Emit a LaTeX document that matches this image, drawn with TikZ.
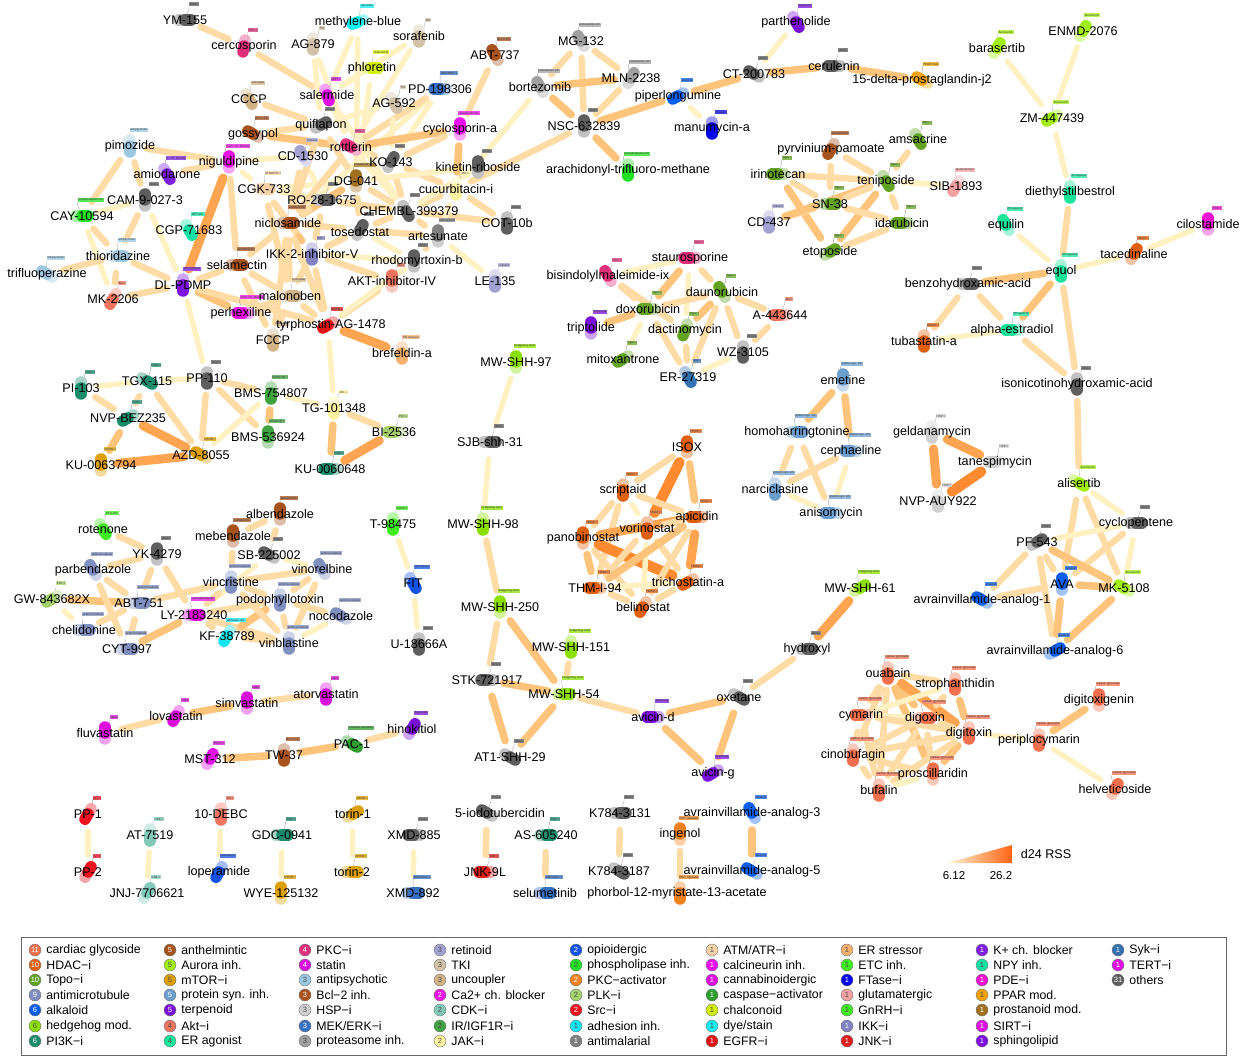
\documentclass[tikz,border=0pt]{standalone}
\usepackage{fontspec}
\setmainfont{Liberation Sans}
\usetikzlibrary{calc}
\pgfdeclarelayer{back}\pgfdeclarelayer{edges}\pgfdeclarelayer{caps}
\pgfsetlayers{back,edges,caps,main}
\newcommand\defclass[3]{\definecolor{c#1}{HTML}{#2}\expandafter\def\csname tg#1\endcsname{#3}}
\defclass{cg}{F2704D}{cardiac glycoside}
\defclass{hdac}{E0600E}{HDAC−i}
\defclass{topo}{62A422}{Topo−i}
\defclass{amt}{7F8FC0}{antimicrotubule}
\defclass{alk}{0A5EF0}{alkaloid}
\defclass{hh}{8CE000}{hedgehog mod.}
\defclass{pi3k}{1A8C6C}{PI3K−i}
\defclass{anth}{A5521C}{anthelmintic}
\defclass{aur}{A2EE10}{Aurora inh.}
\defclass{mtor}{DDA000}{mTOR−i}
\defclass{psi}{6C9ECE}{protein syn. inh.}
\defclass{terp}{7A10DC}{terpenoid}
\defclass{akt}{F2735E}{Akt−i}
\defclass{era}{16E59A}{ER agonist}
\defclass{pkci}{E0307C}{PKC−i}
\defclass{stat}{DC10DC}{statin}
\defclass{apsy}{9CC8E2}{antipsychotic}
\defclass{bcl}{A8521E}{Bcl−2 inh.}
\defclass{hsp}{CFCFCF}{HSP−i}
\defclass{mek}{3770C0}{MEK/ERK−i}
\defclass{prot}{A0A0A0}{proteasome inh.}
\defclass{ret}{A2A2D2}{retinoid}
\defclass{tki}{D2C3A8}{TKI}
\defclass{unc}{D1B385}{uncoupler}
\defclass{ca}{F010E6}{Ca2+ ch. blocker}
\defclass{cdk}{82C9B9}{CDK−i}
\defclass{igf}{3FA33F}{IR/IGF1R−i}
\defclass{jak}{FFF2A0}{JAK−i}
\defclass{opi}{1452E8}{opioidergic}
\defclass{pla}{22E022}{phospholipase inh.}
\defclass{pkca}{F2821E}{PKC−activator}
\defclass{plk}{A3D06B}{PLK−i}
\defclass{src}{F0101E}{Src−i}
\defclass{adh}{10E6F2}{adhesion inh.}
\defclass{amal}{808080}{antimalarial}
\defclass{atm}{F8D2A6}{ATM/ATR−i}
\defclass{calc}{F00CF0}{calcineurin inh.}
\defclass{cann}{E00FE0}{cannabinoidergic}
\defclass{casp}{2E9E2E}{caspase−activator}
\defclass{chal}{D2F000}{chalconoid}
\defclass{dye}{10F0F0}{dye/stain}
\defclass{egfr}{E01414}{EGFR−i}
\defclass{ers}{F8B06E}{ER stressor}
\defclass{etc}{3EEE1E}{ETC inh.}
\defclass{ftase}{0000F0}{FTase−i}
\defclass{glu}{F2A0A0}{glutamatergic}
\defclass{gnrh}{3EEE1E}{GnRH−i}
\defclass{ikk}{8282C4}{IKK−i}
\defclass{jnk}{E21E1E}{JNK−i}
\defclass{kch}{7E1EE2}{K+ ch. blocker}
\defclass{npy}{12E2A2}{NPY inh.}
\defclass{pde}{F010D2}{PDE−i}
\defclass{ppar}{F2A202}{PPAR mod.}
\defclass{pros}{A0701E}{prostanoid mod.}
\defclass{sirt}{E010E6}{SIRT−i}
\defclass{sph}{7E10E2}{sphingolipid}
\defclass{syk}{3472B2}{Syk−i}
\defclass{tert}{E010E6}{TERT−i}
\defclass{oth}{5E5E5E}{others}
\definecolor{ecA}{HTML}{FFF1C2}
\definecolor{ecB}{HTML}{FFDCA6}
\definecolor{ecC}{HTML}{FFC47C}
\definecolor{ecD}{HTML}{FFA552}
\definecolor{ecE}{HTML}{FF8A30}
\tikzset{
  eb/.style={line cap=round, shorten <=17pt, shorten >=17pt},
  e1/.style={eb, line width=5.5pt, draw=ecA},
  e2/.style={eb, line width=6.5pt, draw=ecB},
  e3/.style={eb, line width=7.5pt, draw=ecC},
  e4/.style={eb, line width=9pt, draw=ecD},
  e5/.style={eb, line width=10.5pt, draw=ecE},
  capsule/.style={line width=11.5pt, line cap=round},
  lbl/.style={inner sep=0pt, font=\fontsize{12.6}{14}\selectfont},
  tagbox/.style={inner sep=0.7pt, font=\fontsize{3}{3.5}\selectfont, text=black!80},
  leader/.style={draw=black!35, line width=0.35pt},
  legc/.style={circle, draw=black!55, line width=0.4pt, inner sep=0pt, minimum size=12pt, font=\fontsize{7.5}{7.5}\selectfont},
  legt/.style={inner sep=0pt, anchor=west, font=\fontsize{12.3}{13}\selectfont},
}
% node: [label opts]{name}{x}{y}{class}{angle of dark half}{label}
\newcommand\dn[7][]{%
  \coordinate (#2) at (#3,#4);
  \begin{pgfonlayer}{caps}
    \node[tagbox, fill=c#5!75] (#2t) at ([shift={(9,-16)}]#2) {\csname tg#5\endcsname};
    \draw[leader] (#2t.south west) -- ++(0,3) -- (#2);
    \draw[capsule, c#5!38] (#2) -- ++(#6:-6);
    \draw[capsule, c#5] (#2) -- ++(#6:6);
  \end{pgfonlayer}
  \node[lbl,#1] (#2l) at (#2) {#7};
}
\newcommand\edg[3]{\draw[#1] (#2) -- (#3);}
\newcommand\legitem[5]{%
  \node[legc, fill=c#3, text=#5] (lc#3) at (#1,#2) {#4};
  \node[legt] (lt#3) at ([xshift=5pt]lc#3.east) {\csname tg#3\endcsname};
}
\begin{document}
\begin{tikzpicture}[x=1pt,y=-1pt]
\useasboundingbox (0,0) rectangle (1242,1056);
\begin{pgfonlayer}{back}\fill[white] (0,0) rectangle (1242,1056);\end{pgfonlayer}
% ---------------- nodes: top-left cluster
\dn{ym}{185}{20}{oth}{0}{YM-155}
\dn{cerco}{244}{46}{pkci}{100}{cercosporin}
\dn{mblue}{358}{22}{dye}{160}{methylene-blue}
\dn{agei}{313}{44}{tki}{90}{AG-879}
\dn{soraf}{419}{36}{tki}{90}{sorafenib}
\dn{phlor}{372}{68}{chal}{0}{phloretin}
\dn{pdone}{440}{89}{mek}{180}{PD-198306}
\dn{cccp}{249}{99}{unc}{60}{CCCP}
\dn{salerm}{327}{95}{sirt}{70}{salermide}
\dn{agfive}{394}{103}{tki}{60}{AG-592}
\dn{quifl}{321}{125}{oth}{-30}{quiflapon}
\dn{gossy}{253}{134}{bcl}{-150}{gossypol}
\dn{pimoz}{130}{146}{apsy}{90}{pimozide}
\dn{nigul}{229}{162}{ca}{-90}{niguldipine}
\dn{amiod}{167}{174}{kch}{60}{amiodarone}
\dn{cdone}{303}{156}{ret}{-120}{CD-1530}
\dn{rottl}{351}{147}{pkci}{-150}{rottlerin}
\dn{ko}{391}{162}{oth}{-60}{KO-143}
\dn{cgk}{264}{189}{atm}{0}{CGK-733}
\dn{dg}{356}{181}{pros}{-90}{DG-041}
\dn{cucurb}{456}{189}{jak}{90}{cucurbitacin-i}
\dn{cam}{145}{200}{oth}{-90}{CAM-9-027-3}
\dn[xshift=-2pt]{ro}{324}{200}{oth}{0}{RO-28-1675}
\dn[xshift=3pt]{chembl}{406}{211}{oth}{60}{CHEMBL-399379}
\dn{cay}{82}{216}{pla}{0}{CAY-10594}
\dn{cgp}{189}{230}{npy}{60}{CGP-71683}
\dn{niclo}{288}{223}{anth}{0}{niclosamide}
\dn[yshift=-2pt]{tosed}{360}{230}{oth}{-60}{tosedostat}
\dn{artes}{438}{236}{amal}{-90}{artesunate}
\dn{cot}{507}{223}{oth}{90}{COT-10b}
\dn{thior}{118}{256}{apsy}{0}{thioridazine}
\dn{selam}{237}{265}{anth}{0}{selamectin}
\dn{ikk}{312}{254}{ikk}{90}{IKK-2-inhibitor-V}
\dn[xshift=3pt]{rhodo}{414}{261}{oth}{-90}{rhodomyrtoxin-b}
\dn{triflu}{47}{274}{apsy}{-150}{trifluoperazine}
\dn{dlp}{183}{285}{sph}{90}{DL-PDMP}
\dn{mktwo}{113}{299}{akt}{120}{MK-2206}
\dn{aktiv}{392}{281}{akt}{-90}{AKT-inhibitor-IV}
\dn{le}{495}{281}{ret}{90}{LE-135}
\dn{malon}{290}{296}{unc}{0}{malonoben}
\dn[xshift=-2pt]{perhex}{243}{313}{ca}{180}{perhexiline}
\dn[xshift=3pt]{tyrph}{328}{325}{egfr}{150}{tyrphostin-AG-1478}
\dn{fccp}{273}{340}{unc}{90}{FCCP}
\dn{brefeld}{402}{353}{ers}{90}{brefeldin-a}
\dn{abt}{495}{55}{bcl}{-120}{ABT-737}
\dn{cyclos}{460}{129}{calc}{-90}{cyclosporin-a}
\dn{kinet}{478}{167}{oth}{-90}{kinetin-riboside}
% ---------------- top middle / right
\dn{mg}{581}{41}{prot}{-120}{MG-132}
\dn{bortez}{540}{87}{prot}{-120}{bortezomib}
\dn{mln}{631}{78}{prot}{-60}{MLN-2238}
\dn{nsc}{584}{126}{oth}{-90}{NSC-632839}
\dn{piper}{678}{96}{alk}{150}{piperlongumine}
\dn{manu}{712}{128}{ftase}{90}{manumycin-a}
\dn{arach}{628}{170}{pla}{90}{arachidonyl-trifluoro-methane}
\dn{parth}{796}{22}{terp}{60}{parthenolide}
\dn{ct}{754}{74}{oth}{-150}{CT-200783}
\dn{ceru}{834}{66}{oth}{180}{cerulenin}
\dn{pgj}{922}{80}{ppar}{-150}{15-delta-prostaglandin-j2}
\dn{baras}{997}{48}{aur}{-60}{barasertib}
\dn{enmd}{1083}{31}{aur}{-60}{ENMD-2076}
\dn{zm}{1052}{118}{aur}{150}{ZM-447439}
\dn{dies}{1070}{192}{era}{90}{diethylstilbestrol}
\dn{equil}{1006}{225}{era}{-120}{equilin}
\dn{cilo}{1208}{224}{pde}{-90}{cilostamide}
\dn{taced}{1134}{254}{hdac}{-60}{tacedinaline}
\dn{equol}{1061}{271}{era}{90}{equol}
\dn{benzo}{968}{284}{oth}{0}{benzohydroxamic-acid}
\dn{alpha}{1012}{330}{era}{180}{alpha-estradiol}
\dn{tubas}{924}{341}{hdac}{90}{tubastatin-a}
\dn{isonic}{1077}{384}{oth}{90}{isonicotinohydroxamic-acid}
% topo cluster
\dn{pyrv}{831}{149}{anth}{120}{pyrvinium-pamoate}
\dn{amsac}{918}{139}{topo}{60}{amsacrine}
\dn{irino}{778}{174}{topo}{180}{irinotecan}
\dn{tenip}{886}{181}{topo}{60}{teniposide}
\dn{sib}{956}{186}{glu}{120}{SIB-1893}
\dn{sn}{830}{204}{topo}{0}{SN-38}
\dn{idaru}{902}{223}{topo}{180}{idarubicin}
\dn{cdfour}{769}{222}{ret}{90}{CD-437}
\dn{etopo}{830}{252}{topo}{-30}{etoposide}
% staurosporine cluster
\dn{staur}{690}{258}{pkci}{180}{staurosporine}
\dn{bisin}{608}{276}{pkci}{-120}{bisindolylmaleimide-ix}
\dn{dauno}{722}{292}{topo}{-120}{daunorubicin}
\dn{doxo}{648}{309}{topo}{180}{doxorubicin}
\dn{afour}{780}{315}{akt}{180}{A-443644}
\dn{tript}{591}{328}{terp}{-90}{triptolide}
\dn{dact}{685}{330}{topo}{110}{dactinomycin}
\dn{mitox}{623}{359}{topo}{150}{mitoxantrone}
\dn{wz}{743}{352}{oth}{90}{WZ-3105}
\dn{er}{688}{377}{syk}{60}{ER-27319}
% PI3K cluster
\dn{pione}{81}{388}{pi3k}{90}{PI-103}
\dn{tgx}{147}{381}{pi3k}{30}{TGX-115}
\dn{pp}{207}{378}{oth}{90}{PP-110}
\dn{nvp}{128}{418}{pi3k}{150}{NVP-BEZ235}
\dn{bmsa}{271}{393}{igf}{90}{BMS-754807}
\dn{tg}{334}{408}{jak}{90}{TG-101348}
\dn{bmsb}{268}{437}{igf}{-90}{BMS-536924}
\dn{bi}{394}{432}{plk}{180}{BI-2536}
\dn{kua}{101}{465}{mtor}{-90}{KU-0063794}
\dn{azd}{201}{455}{mtor}{-150}{AZD-8055}
\dn{kub}{330}{469}{pi3k}{180}{KU-0060648}
% antimicrotubule cluster
\dn{alb}{280}{514}{anth}{-90}{albendazole}
\dn{rot}{103}{529}{etc}{60}{rotenone}
\dn{meb}{233}{536}{anth}{-90}{mebendazole}
\dn{yk}{157}{554}{oth}{-90}{YK-4279}
\dn{sb}{269}{555}{oth}{-150}{SB-225002}
\dn{parb}{93}{570}{amt}{-120}{parbendazole}
\dn{vinor}{322}{569}{amt}{-120}{vinorelbine}
\dn{vinc}{231}{582}{amt}{90}{vincristine}
\dn{gw}{52}{599}{plk}{150}{GW-843682X}
\dn{abtb}{139}{603}{amt}{0}{ABT-751}
\dn{podo}{280}{600}{amt}{90}{podophyllotoxin}
\dn{ly}{194}{615}{cann}{0}{LY-2183240}
\dn{chel}{84}{630}{amt}{0}{chelidonine}
\dn{noco}{341}{616}{amt}{-150}{nocodazole}
\dn{kf}{227}{636}{adh}{120}{KF-38789}
\dn{vinb}{289}{643}{amt}{90}{vinblastine}
\dn{cyt}{127}{649}{amt}{0}{CYT-997}
\dn{tnine}{393}{524}{gnrh}{90}{T-98475}
\dn{fit}{413}{583}{opi}{60}{FIT}
\dn{ueight}{419}{644}{oth}{90}{U-18666A}
% hedgehog chain
\dn{sa}{516}{362}{hh}{-90}{MW-SHH-97}
\dn{sjb}{490}{442}{oth}{0}{SJB-shh-31}
\dn{sb98}{483}{524}{hh}{90}{MW-SHH-98}
\dn{s250}{500}{607}{hh}{-90}{MW-SHH-250}
\dn{s151}{571}{647}{hh}{90}{MW-SHH-151}
\dn{stk}{487}{680}{oth}{180}{STK-721917}
\dn{s54}{564}{694}{hh}{0}{MW-SHH-54}
\dn{at1}{510}{757}{oth}{30}{AT1-SHH-29}
\dn{s61}{860}{588}{hh}{-30}{MW-SHH-61}
\dn{hydro}{807}{649}{oth}{0}{hydroxyl}
\dn{oxet}{739}{697}{oth}{30}{oxetane}
\dn{avd}{653}{717}{terp}{180}{avicin-d}
\dn{avg}{713}{773}{terp}{150}{avicin-g}
% HDAC cluster
\dn{isox}{687}{447}{hdac}{-90}{ISOX}
\dn{scrip}{623}{490}{hdac}{90}{scriptaid}
\dn{apic}{697}{517}{hdac}{180}{apicidin}
\dn{vori}{647}{528}{hdac}{90}{vorinostat}
\dn{pano}{583}{538}{hdac}{-90}{panobinostat}
\dn{thm}{595}{588}{hdac}{180}{THM-I-94}
\dn{tsa}{688}{582}{hdac}{150}{trichostatin-a}
\dn{beli}{643}{607}{hdac}{120}{belinostat}
% protein synthesis
\dn{emet}{843}{380}{psi}{-90}{emetine}
\dn{homo}{797}{432}{psi}{0}{homoharringtonine}
\dn{ceph}{851}{451}{psi}{180}{cephaeline}
\dn{narc}{775}{489}{psi}{90}{narciclasine}
\dn{aniso}{831}{513}{psi}{180}{anisomycin}
% HSP
\dn{geld}{932}{432}{hsp}{90}{geldanamycin}
\dn{tanes}{995}{462}{hsp}{180}{tanespimycin}
\dn{auy}{938}{501}{hsp}{90}{NVP-AUY922}
% AVA cluster
\dn{alis}{1079}{483}{aur}{30}{alisertib}
\dn{cyclo}{1136}{523}{oth}{0}{cyclopentene}
\dn{pf}{1037}{542}{oth}{-30}{PF-543}
\dn{ava}{1062}{584}{alk}{-90}{AVA}
\dn{mk}{1124}{588}{aur}{-150}{MK-5108}
\dn{avone}{982}{600}{alk}{-150}{avrainvillamide-analog-1}
\dn{avsix}{1055}{651}{alk}{-30}{avrainvillamide-analog-6}
% cardiac glycosides
\dn{ouab}{888}{673}{cg}{90}{ouabain}
\dn{stro}{955}{684}{cg}{90}{strophanthidin}
\dn{cyma}{861}{715}{cg}{180}{cymarin}
\dn{digox}{925}{718}{cg}{0}{digoxin}
\dn{digit}{969}{733}{cg}{90}{digitoxin}
\dn{digig}{1099}{700}{cg}{-90}{digitoxigenin}
\dn{peri}{1039}{740}{cg}{90}{periplocymarin}
\dn{cino}{853}{755}{cg}{90}{cinobufagin}
\dn{prosc}{933}{774}{cg}{-90}{proscillaridin}
\dn{bufa}{879}{790}{cg}{90}{bufalin}
\dn{helv}{1115}{789}{cg}{-60}{helveticoside}
% statins etc
\dn{fluva}{105}{733}{stat}{-90}{fluvastatin}
\dn{lova}{176}{716}{stat}{120}{lovastatin}
\dn{simva}{247}{703}{stat}{-90}{simvastatin}
\dn{atorva}{326}{694}{stat}{90}{atorvastatin}
\dn{mst}{210}{759}{tert}{-60}{MST-312}
\dn{tw}{284}{755}{bcl}{90}{TW-37}
\dn{pac}{352}{744}{casp}{30}{PAC-1}
\dn{hinok}{412}{729}{terp}{-60}{hinokitiol}
% pairs
\dn{ppone}{88}{814}{src}{120}{PP-1}
\dn{pptwo}{88}{872}{src}{-60}{PP-2}
\dn{at75}{150}{835}{cdk}{90}{AT-7519}
\dn{jnj}{147}{893}{cdk}{-60}{JNJ-7706621}
\dn{debc}{221}{814}{akt}{90}{10-DEBC}
\dn{lope}{219}{872}{opi}{120}{loperamide}
\dn{gdc}{282}{835}{pi3k}{0}{GDC-0941}
\dn{wye}{281}{893}{mtor}{-90}{WYE-125132}
\dn{torone}{353}{814}{mtor}{-30}{torin-1}
\dn{tortwo}{352}{872}{mtor}{0}{torin-2}
\dn{xmda}{414}{835}{oth}{180}{XMD-885}
\dn{xmdb}{413}{893}{mek}{0}{XMD-892}
\dn[xshift=13pt]{iodo}{487}{813}{oth}{-150}{5-iodotubercidin}
\dn{jnk}{485}{872}{jnk}{180}{JNK-9L}
\dn{as}{546}{835}{pi3k}{0}{AS-605240}
\dn{selu}{545}{893}{mek}{0}{selumetinib}
\dn{ka}{620}{813}{oth}{0}{K784-3131}
\dn{kb}{619}{871}{oth}{30}{K784-3187}
\dn{ingen}{680}{834}{pkca}{-90}{ingenol}
\dn[xshift=-3pt]{pma}{680}{893}{pkca}{90}{phorbol-12-myristate-13-acetate}
\dn{avthree}{752}{813}{alk}{-120}{avrainvillamide-analog-3}
\dn{avfive}{752}{871}{alk}{-150}{avrainvillamide-analog-5}
% ---------------- edges
\begin{pgfonlayer}{edges}
\edg{e2}{ym}{cerco}\edg{e2}{cerco}{salerm}\edg{e1}{mblue}{salerm}\edg{e1}{mblue}{dg}
\edg{e1}{agei}{quifl}\edg{e1}{agei}{rottl}\edg{e1}{soraf}{salerm}\edg{e1}{soraf}{rottl}
\edg{e1}{phlor}{dg}\edg{e1}{phlor}{salerm}\edg{e1}{pdone}{ko}\edg{e1}{pdone}{niclo}
\edg{e2}{pdone}{rottl}\edg{e1}{agfive}{ko}\edg{e1}{agfive}{quifl}\edg{e2}{cccp}{quifl}
\edg{e2}{gossy}{quifl}\edg{e3}{gossy}{rottl}\edg{e2}{pimoz}{nigul}\edg{e2}{pimoz}{cay}
\edg{e2}{pimoz}{cam}\edg{e2}{amiod}{nigul}\edg{e4}{nigul}{dlp}\edg{e2}{nigul}{selam}
\edg{e1}{nigul}{cgk}\edg{e1}{nigul}{cdone}\edg{e1}{cam}{cay}\edg{e2}{cam}{thior}
\edg{e1}{cam}{dlp}\edg{e2}{cay}{thior}\edg{e1}{cay}{mktwo}\edg{e2}{triflu}{thior}
\edg{e2}{thior}{mktwo}\edg{e2}{thior}{dlp}\edg{e2}{mktwo}{dlp}\edg{e2}{dlp}{selam}
\edg{e3}{dlp}{perhex}\edg{e2}{dlp}{tyrph}\edg{e1}{dlp}{pp}\edg{e2}{cgk}{niclo}
\edg{e2}{cgk}{malon}\edg{e1}{cgk}{dg}\edg{e1}{cgk}{ro}\edg{e2}{cgk}{ikk}
\edg{e1}{cdone}{ro}\edg{e2}{cdone}{niclo}\edg{e3}{rottl}{cyclos}\edg{e2}{rottl}{niclo}
\edg{e2}{rottl}{ko}\edg{e1}{rottl}{chembl}\edg{e2}{quifl}{dg}\edg{e2}{quifl}{niclo}
\edg{e1}{salerm}{rottl}\edg{e1}{salerm}{chembl}\edg{e2}{ko}{cucurb}\edg{e2}{ko}{chembl}
\edg{e1}{kinet}{dg}\edg{e2}{dg}{tosed}\edg{e3}{dg}{niclo}\edg{e2}{dg}{chembl}
\edg{e2}{ro}{niclo}\edg{e2}{ro}{chembl}\edg{e2}{ro}{ikk}\edg{e3}{niclo}{ikk}
\edg{e2}{niclo}{tosed}\edg{e2}{niclo}{selam}\edg{e2}{niclo}{malon}\edg{e2}{niclo}{tyrph}
\edg{e2}{niclo}{fccp}\edg{e2}{tosed}{chembl}\edg{e2}{tosed}{artes}\edg{e2}{tosed}{ikk}
\edg{e1}{tosed}{rhodo}\edg{e2}{chembl}{artes}\edg{e2}{chembl}{cucurb}\edg{e2}{chembl}{cot}
\edg{e1}{chembl}{kinet}\edg{e3}{cyclos}{cucurb}\edg{e2}{cyclos}{ko}\edg{e1}{cucurb}{artes}
\edg{e2}{cucurb}{cot}\edg{e2}{nsc}{cucurb}\edg{e1}{bortez}{cucurb}\edg{e2}{abt}{cyclos}
\edg{e1}{artes}{le}\edg{e2}{artes}{rhodo}\edg{e2}{ikk}{tyrph}\edg{e2}{ikk}{aktiv}
\edg{e2}{ikk}{malon}\edg{e1}{ikk}{rhodo}\edg{e2}{selam}{malon}\edg{e2}{selam}{fccp}
\edg{e2}{malon}{tyrph}\edg{e2}{malon}{fccp}\edg{e2}{perhex}{malon}\edg{e2}{tyrph}{aktiv}
\edg{e1}{tyrph}{rhodo}\edg{e4}{tyrph}{brefeld}\edg{e1}{tyrph}{tg}\edg{e1}{aktiv}{rhodo}
% proteasome
\edg{e2}{mg}{bortez}\edg{e2}{mg}{nsc}\edg{e2}{mg}{mln}\edg{e3}{bortez}{mln}
\edg{e3}{bortez}{nsc}\edg{e2}{mln}{nsc}\edg{e3}{nsc}{piper}\edg{e3}{nsc}{arach}
\edg{e1}{piper}{manu}\edg{e3}{piper}{ct}\edg{e1}{ct}{parth}\edg{e3}{ct}{ceru}\edg{e3}{ceru}{pgj}
% ER agonists
\edg{e1}{baras}{zm}\edg{e1}{enmd}{zm}\edg{e1}{zm}{dies}\edg{e2}{dies}{equol}
\edg{e1}{equil}{equol}\edg{e1}{equol}{taced}\edg{e1}{taced}{cilo}\edg{e3}{equol}{benzo}
\edg{e3}{equol}{alpha}\edg{e2}{equol}{isonic}\edg{e2}{benzo}{tubas}\edg{e2}{benzo}{alpha}
\edg{e1}{tubas}{alpha}\edg{e2}{alpha}{isonic}\edg{e2}{isonic}{alis}
% topo
\edg{e2}{irino}{tenip}\edg{e2}{pyrv}{sn}\edg{e2}{pyrv}{tenip}\edg{e2}{irino}{sn}
\edg{e3}{irino}{etopo}\edg{e2}{cdfour}{sn}\edg{e3}{cdfour}{tenip}\edg{e2}{amsac}{tenip}
\edg{e1}{tenip}{sib}\edg{e2}{tenip}{idaru}\edg{e2}{sn}{tenip}\edg{e3}{etopo}{tenip}
\edg{e2}{etopo}{idaru}\edg{e2}{sn}{idaru}
% staurosporine
\edg{e1}{bisin}{staur}\edg{e2}{staur}{dauno}\edg{e3}{staur}{doxo}\edg{e1}{staur}{dact}
\edg{e2}{bisin}{doxo}\edg{e2}{bisin}{dact}\edg{e2}{dauno}{afour}\edg{e3}{tript}{doxo}
\edg{e2}{dauno}{doxo}\edg{e3}{dauno}{dact}\edg{e2}{dauno}{er}\edg{e2}{dauno}{wz}
\edg{e1}{mitox}{doxo}\edg{e2}{afour}{wz}\edg{e2}{doxo}{er}\edg{e2}{dact}{er}\edg{e1}{er}{wz}
% PI3K
\edg{e1}{pione}{tgx}\edg{e1}{tgx}{pp}\edg{e2}{pione}{nvp}\edg{e2}{tgx}{nvp}
\edg{e2}{tgx}{azd}\edg{e4}{nvp}{azd}\edg{e3}{nvp}{kua}\edg{e4}{kua}{azd}
\edg{e2}{pp}{azd}\edg{e2}{pp}{bmsb}\edg{e2}{pp}{bmsa}\edg{e1}{bmsa}{azd}
\edg{e3}{bmsa}{bmsb}\edg{e1}{bmsa}{tg}\edg{e2}{tg}{bi}\edg{e3}{tg}{kub}\edg{e4}{kub}{bi}
% antimicrotubule
\edg{e2}{rot}{yk}\edg{e2}{yk}{parb}\edg{e2}{yk}{abtb}\edg{e2}{yk}{ly}
\edg{e2}{alb}{meb}\edg{e2}{alb}{sb}\edg{e2}{meb}{vinc}\edg{e1}{sb}{ly}
\edg{e1}{sb}{vinor}\edg{e2}{vinc}{vinor}\edg{e2}{vinc}{ly}\edg{e2}{abtb}{vinc}
\edg{e2}{parb}{abtb}\edg{e3}{gw}{abtb}\edg{e1}{gw}{chel}\edg{e2}{parb}{cyt}
\edg{e2}{abtb}{cyt}\edg{e3}{cyt}{ly}\edg{e2}{chel}{abtb}\edg{e2}{ly}{kf}
\edg{e2}{ly}{podo}\edg{e2}{ly}{vinb}\edg{e3}{kf}{podo}\edg{e2}{kf}{vinb}
\edg{e2}{podo}{vinb}\edg{e2}{podo}{noco}\edg{e2}{podo}{vinc}\edg{e1}{vinb}{noco}
\edg{e2}{vinor}{podo}\edg{e2}{vinor}{vinb}\edg{e2}{vinc}{vinb}
\edg{e1}{tnine}{fit}\edg{e1}{fit}{ueight}
% hedgehog
\edg{e1}{sa}{sjb}\edg{e1}{sjb}{sb98}\edg{e2}{sb98}{s250}\edg{e2}{s250}{stk}
\edg{e3}{s250}{s54}\edg{e2}{s151}{s54}\edg{e3}{stk}{s54}\edg{e3}{stk}{at1}
\edg{e3}{s54}{at1}\edg{e2}{s54}{avd}\edg{e3}{avd}{oxet}\edg{e3}{avd}{avg}
\edg{e3}{oxet}{avg}\edg{e2}{oxet}{hydro}\edg{e4}{hydro}{s61}
% HDAC
\edg{e2}{isox}{scrip}\edg{e5}{isox}{vori}\edg{e3}{isox}{apic}\edg{e2}{scrip}{apic}
\edg{e2}{scrip}{pano}\edg{e1}{scrip}{vori}\edg{e2}{scrip}{thm}\edg{e4}{pano}{apic}
\edg{e5}{pano}{tsa}\edg{e3}{pano}{thm}\edg{e2}{pano}{beli}\edg{e2}{vori}{thm}
\edg{e1}{vori}{beli}\edg{e2}{vori}{tsa}\edg{e3}{apic}{thm}\edg{e4}{apic}{tsa}
\edg{e2}{apic}{beli}\edg{e1}{thm}{tsa}\edg{e2}{thm}{beli}\edg{e2}{tsa}{beli}\edg{e2}{vori}{apic}
% protein synthesis
\edg{e3}{emet}{homo}\edg{e3}{emet}{ceph}\edg{e2}{homo}{narc}\edg{e2}{homo}{aniso}
\edg{e2}{ceph}{narc}\edg{e1}{ceph}{aniso}\edg{e1}{narc}{aniso}
% HSP
\edg{e4}{geld}{tanes}\edg{e4}{geld}{auy}\edg{e5}{tanes}{auy}
% AVA
\edg{e1}{alis}{cyclo}\edg{e2}{alis}{ava}\edg{e2}{alis}{mk}\edg{e1}{cyclo}{pf}
\edg{e1}{cyclo}{mk}\edg{e2}{cyclo}{ava}\edg{e3}{pf}{mk}\edg{e2}{pf}{ava}
\edg{e2}{pf}{avone}\edg{e2}{pf}{avsix}\edg{e3}{ava}{mk}\edg{e3}{ava}{avsix}
\edg{e2}{avone}{ava}\edg{e3}{mk}{avsix}
% cardiac
\edg{e2}{ouab}{stro}\edg{e3}{ouab}{digox}\edg{e4}{ouab}{digit}\edg{e2}{ouab}{cyma}
\edg{e2}{ouab}{cino}\edg{e2}{ouab}{bufa}\edg{e3}{ouab}{prosc}\edg{e3}{stro}{digit}
\edg{e1}{stro}{cyma}\edg{e2}{stro}{digox}\edg{e1}{cyma}{digox}\edg{e2}{cyma}{digit}
\edg{e2}{cyma}{cino}\edg{e2}{cyma}{bufa}\edg{e2}{digox}{digit}\edg{e2}{digox}{cino}
\edg{e2}{digox}{bufa}\edg{e2}{digox}{prosc}\edg{e3}{digit}{prosc}\edg{e2}{digit}{bufa}
\edg{e2}{digit}{cino}\edg{e1}{digit}{peri}\edg{e2}{cino}{bufa}\edg{e2}{cino}{prosc}
\edg{e1}{bufa}{prosc}\edg{e3}{peri}{digig}\edg{e1}{peri}{helv}
% statins
\edg{e2}{fluva}{lova}\edg{e3}{lova}{simva}\edg{e2}{simva}{atorva}
\edg{e3}{mst}{tw}\edg{e3}{tw}{pac}\edg{e2}{pac}{hinok}
% pairs
\edg{e1}{ppone}{pptwo}\edg{e1}{at75}{jnj}\edg{e1}{debc}{lope}\edg{e1}{gdc}{wye}
\edg{e1}{torone}{tortwo}\edg{e1}{xmda}{xmdb}\edg{e2}{iodo}{jnk}\edg{e2}{as}{selu}
\edg{e2}{ka}{kb}\edg{e2}{ingen}{pma}\edg{e3}{avthree}{avfive}
\end{pgfonlayer}
% ---------------- colour scale
\shade[left color={rgb,255:red,255;green,247;blue,215}, right color={rgb,255:red,255;green,100;blue,20}]
  (947,863) -- (1012,845) -- (1012,863) -- cycle;
\node[lbl] (rss) at (1046,854) {d24 RSS};
\node[lbl, font=\fontsize{11.5}{13}\selectfont] (lo) at (954,876) {6.12};
\node[lbl, font=\fontsize{11.5}{13}\selectfont] (hi) at (1001,876) {26.2};
% ---------------- legend
\draw[black!60, line width=0.9pt] (21,937) rectangle (1226,1055.5);
\legitem{35}{950}{cg}{11}{white}
\legitem{35}{965}{hdac}{10}{white}
\legitem{35}{980}{topo}{10}{white}
\legitem{35}{995}{amt}{9}{white}
\legitem{35}{1010}{alk}{6}{white}
\legitem{35}{1026}{hh}{6}{black!70}
\legitem{35}{1041}{pi3k}{6}{white}
\legitem{170}{950}{anth}{5}{white}
\legitem{170}{965}{aur}{5}{black!70}
\legitem{170}{980}{mtor}{5}{black!70}
\legitem{170}{995}{psi}{5}{white}
\legitem{170}{1010}{terp}{5}{white}
\legitem{170}{1026}{akt}{4}{black!70}
\legitem{170}{1041}{era}{4}{black!70}
\legitem{305}{950}{pkci}{4}{white}
\legitem{305}{965}{stat}{4}{white}
\legitem{305}{980}{apsy}{3}{black!70}
\legitem{305}{995}{bcl}{3}{white}
\legitem{305}{1010}{hsp}{3}{black!70}
\legitem{305}{1026}{mek}{3}{white}
\legitem{305}{1041}{prot}{3}{black!70}
\legitem{440}{950}{ret}{3}{black!70}
\legitem{440}{965}{tki}{3}{black!70}
\legitem{440}{980}{unc}{3}{black!70}
\legitem{440}{995}{ca}{2}{white}
\legitem{440}{1010}{cdk}{2}{black!70}
\legitem{440}{1026}{igf}{2}{black!70}
\legitem{440}{1041}{jak}{2}{black!70}
\legitem{576}{950}{opi}{2}{white}
\legitem{576}{965}{pla}{2}{black!70}
\legitem{576}{980}{pkca}{2}{white}
\legitem{576}{995}{plk}{2}{black!70}
\legitem{576}{1010}{src}{2}{white}
\legitem{576}{1026}{adh}{1}{black!70}
\legitem{576}{1041}{amal}{1}{white}
\legitem{712}{950}{atm}{1}{black!70}
\legitem{712}{965}{calc}{1}{white}
\legitem{712}{980}{cann}{1}{white}
\legitem{712}{995}{casp}{1}{white}
\legitem{712}{1010}{chal}{1}{black!70}
\legitem{712}{1026}{dye}{1}{black!70}
\legitem{712}{1041}{egfr}{1}{white}
\legitem{847}{950}{ers}{1}{black!70}
\legitem{847}{965}{etc}{1}{black!70}
\legitem{847}{980}{ftase}{1}{white}
\legitem{847}{995}{glu}{1}{black!70}
\legitem{847}{1010}{gnrh}{1}{black!70}
\legitem{847}{1026}{ikk}{1}{white}
\legitem{847}{1041}{jnk}{1}{white}
\legitem{982}{950}{kch}{1}{white}
\legitem{982}{965}{npy}{1}{black!70}
\legitem{982}{980}{pde}{1}{white}
\legitem{982}{995}{ppar}{1}{black!70}
\legitem{982}{1010}{pros}{1}{white}
\legitem{982}{1026}{sirt}{1}{white}
\legitem{982}{1041}{sph}{1}{white}
\legitem{1118}{950}{syk}{1}{white}
\legitem{1118}{965}{tert}{1}{white}
\legitem{1118}{980}{oth}{31}{white}
\end{tikzpicture}
\end{document}
